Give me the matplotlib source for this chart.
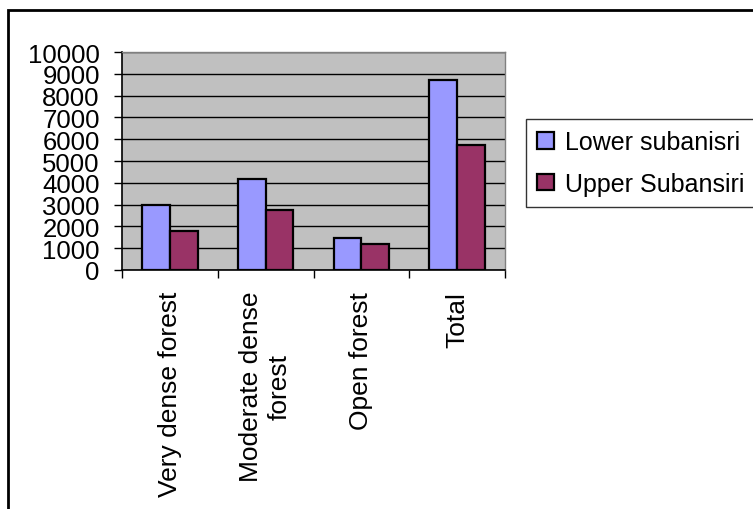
import matplotlib.pyplot as plt
import numpy as np
from matplotlib.patches import Rectangle

plt.rcParams['font.family'] = ['Liberation Sans', 'DejaVu Sans']

categories = ["Very dense forest", "Moderate dense\nforest", "Open forest", "Total"]
lower_subansiri = [3000, 4180, 1450, 8700]
upper_subansiri = [1810, 2730, 1170, 5750]
series_names = ["Lower subanisri", "Upper Subansiri"]
yticks = list(range(0, 10001, 1000))

W, H = 753, 510
fig = plt.figure(figsize=(W / 100, H / 100), dpi=100)
ax = fig.add_axes([122 / W, 1 - 271 / H, (505 - 122) / W, (271 - 53) / H])

ax.set_facecolor('#C0C0C0')
x = np.arange(len(categories))
bw = 0.29
ax.bar(x - bw / 2, lower_subansiri, bw, color='#9999FF', edgecolor='black',
       linewidth=1.6, label=series_names[0], zorder=3)
ax.bar(x + bw / 2, upper_subansiri, bw, color='#993366', edgecolor='black',
       linewidth=1.6, label=series_names[1], zorder=3)

ax.set_xlim(-0.5, len(categories) - 0.5)
ax.set_ylim(0, 10000)
ax.set_yticks(yticks)
ax.set_yticklabels([str(v) for v in yticks], fontsize=18.5)
ax.yaxis.grid(True, color='black', linewidth=1, zorder=1)
ax.tick_params(axis='y', length=6, width=1, pad=10)

ax.set_xticks(x)
ax.set_xticklabels(categories, rotation=90, fontsize=19, va='top',
                   ha='center', multialignment='center', linespacing=1.25)
ax.tick_params(axis='x', which='major', length=0, pad=15)
ax.set_xticks(np.arange(-0.5, len(categories)), minor=True)
ax.tick_params(axis='x', which='minor', length=6, width=1)

for s in ['left', 'bottom']:
    ax.spines[s].set_color('black')
    ax.spines[s].set_linewidth(1.2)
for s in ['top', 'right']:
    ax.spines[s].set_color('#808080')
    ax.spines[s].set_linewidth(1)

# outer chart frame (only left and top edges visible in the crop)
fig.patches.append(Rectangle((8 / W, -0.1), 1.2, (1 - 11 / H) + 0.1,
                             transform=fig.transFigure, fill=False,
                             edgecolor='black', linewidth=2))

leg = fig.legend(loc='upper left',
                 bbox_to_anchor=(526 / W, 1 - 120 / H, (770 - 526) / W, 0),
                 mode='expand', fontsize=18, frameon=True, fancybox=False,
                 framealpha=1, edgecolor='#333333', handlelength=0.65,
                 handleheight=0.65, handletextpad=0.45, labelspacing=0.7,
                 borderpad=0.45, borderaxespad=0)
leg.get_frame().set_linewidth(1)
for h in leg.legend_handles:
    h.set_linewidth(1.6)

fig.savefig('out.png', dpi=100)
